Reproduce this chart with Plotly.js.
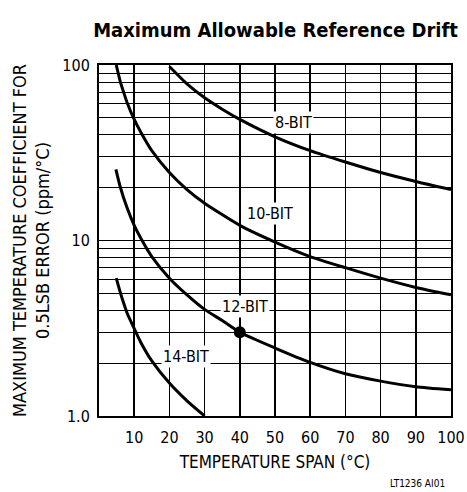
<!DOCTYPE html>
<html><head><meta charset="utf-8">
<script src="https://cdn.plot.ly/plotly-3.0.1.min.js"></script>
<style>html,body{margin:0;padding:0;background:#fff}#chart{width:467px;height:492px}</style>
</head><body><div id="chart"></div>
<script>
const FONT = '"Liberation Sans Narrow","DejaVu Sans Condensed","Arial Narrow",sans-serif';

const span8 = [20,25,30,35,40,50,60,70,80,90,100];
const tc8 = [98,78,65,56,49,39,32.5,28,24.4,21.7,19.5];

const span10 = [4.9,6,7,8,10,12,15,20,25,30,40,50,60,70,80,90,100];
const tc10 = [100,81,70,61,49,41,32.5,24.4,19.5,16.3,12.2,9.8,8.1,7.0,6.1,5.4,4.9];

const span12 = [4.8,6,8,10,12,15,20,25,30,35,40,50,60,70,80,90,100];
const tc12 = [25.4,20.3,15.3,12.2,10.2,8.1,6.1,4.9,4.05,3.5,3.0,2.44,2.02,1.74,1.58,1.47,1.41];

const span14 = [4.9,6,7,8,10,12,15,20,25,30];
const tc14 = [6.1,5.1,4.4,3.85,3.15,2.6,2.06,1.54,1.22,1.0];

const dotSpan = [40];
const dotTc = [3.0];

const curveLabels = ['8-BIT','10-BIT','12-BIT','14-BIT'];
const labelSpan = [55.3,48.5,41.6,24.8];
const labelTc = [47,14.2,4.2,2.18];

const xTicks = [10,20,30,40,50,60,70,80,90,100];
const yTickVals = [1,2,3,4,5,6,7,8,9,10,20,30,40,50,60,70,80,90,100];
const yTickText = yTickVals.map(v => v===1?'1.0':(v===10?'10':(v===100?'100':'')));

const line = {color:'#000', width:3, shape:'spline', smoothing:0.6};
const traces = [
  {x:span8, y:tc8, mode:'lines', line:line, hoverinfo:'skip'},
  {x:span10, y:tc10, mode:'lines', line:line, hoverinfo:'skip'},
  {x:span12, y:tc12, mode:'lines', line:line, hoverinfo:'skip'},
  {x:span14, y:tc14, mode:'lines', line:line, hoverinfo:'skip'},
  {x:dotSpan, y:dotTc, mode:'markers', marker:{color:'#000', size:12}, hoverinfo:'skip'}
];

const plotW = 467-99-16, plotH = 492-65-76;
const annotations = curveLabels.map((t,i)=>({
  x:labelSpan[i], y:Math.log10(labelTc[i]), xref:'x', yref:'y', text:t, showarrow:false,
  bgcolor:'#fff', font:{family:FONT, size:16, color:'#000'}, borderpad:1
}));
annotations.push({x:(447-99)/plotW, y:(492-76-484)/plotH, xref:'paper', yref:'paper', xanchor:'right', yanchor:'middle',
  text:'LT1236 AI01', showarrow:false, font:{family:FONT, size:10, color:'#000'}});

const layout = {
  width:467, height:492,
  margin:{l:99, r:16, t:65, b:76, pad:0},
  paper_bgcolor:'#fff', plot_bgcolor:'#fff',
  showlegend:false,
  title:{text:'<b>Maximum Allowable Reference Drift</b>', x:0.59, xanchor:'center', y:0.94, yanchor:'middle',
    font:{family:FONT, size:20, color:'#000'}},
  xaxis:{range:[0,100], tickmode:'array', tickvals:xTicks, showgrid:true, gridcolor:'#000', gridwidth:1.6,
    zeroline:false, showline:true, linecolor:'#000', linewidth:2, mirror:true,
    ticks:'outside', ticklen:6, tickcolor:'rgba(0,0,0,0)',
    tickfont:{family:FONT, size:16, color:'#000'},
    title:{text:'TEMPERATURE SPAN (°C)', font:{family:FONT, size:17, color:'#000'}, standoff:10}},
  yaxis:{type:'log', range:[0,2], tickmode:'array', tickvals:yTickVals, ticktext:yTickText, showgrid:true, gridcolor:'#000', gridwidth:1,
    zeroline:false, showline:true, linecolor:'#000', linewidth:2, mirror:true,
    ticks:'outside', ticklen:4, tickcolor:'rgba(0,0,0,0)',
    tickfont:{family:FONT, size:16, color:'#000'},
    title:{text:'MAXIMUM TEMPERATURE COEFFICIENT FOR<br>0.5LSB ERROR (ppm/°C)', font:{family:FONT, size:18, color:'#000'}, standoff:8}},
  annotations:annotations
};
Plotly.newPlot('chart', traces, layout, {displayModeBar:false, staticPlot:true});
</script></body></html>
